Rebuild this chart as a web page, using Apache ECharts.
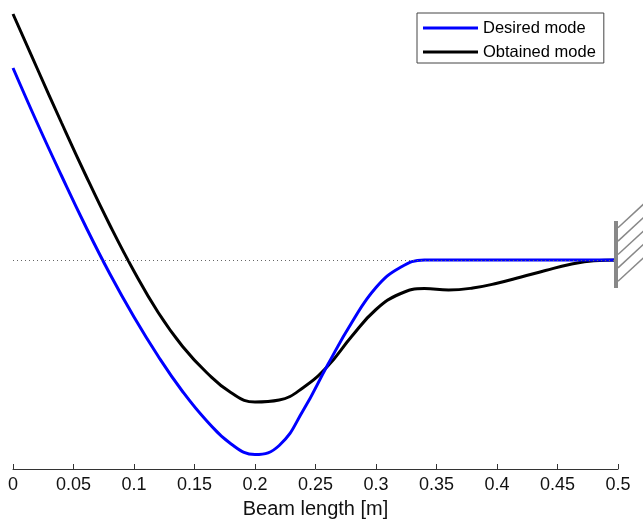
<!DOCTYPE html>
<html>
<head>
<meta charset="utf-8">
<script src="https://cdn.jsdelivr.net/npm/echarts@6/dist/echarts.min.js"></script>
<style>
  html, body { margin: 0; padding: 0; background: #fff; }
  #chart { width: 643px; height: 520px; }
</style>
</head>
<body>
<div id="chart"></div>
<script>
  // beam positions [m]
  var beamX = [0, 0.02, 0.04, 0.06, 0.08, 0.10, 0.12, 0.14, 0.16, 0.18, 0.20, 0.22, 0.24,
               0.26, 0.28, 0.30, 0.32, 0.34, 0.36, 0.38, 0.40, 0.42, 0.44, 0.46, 0.48, 0.50];
  // mode shapes (relative deflection)
  var desiredMode = [0.768, 0.548, 0.338, 0.135, -0.055, -0.228, -0.385, -0.525, -0.643, -0.735, -0.778, -0.742, -0.60,
                     -0.42, -0.25, -0.11, -0.03, 0, 0, 0, 0, 0, 0, 0, 0, 0];
  var obtainedMode = [0.984, 0.766, 0.55, 0.34, 0.14, -0.045, -0.21, -0.345, -0.45, -0.53, -0.568, -0.56, -0.51,
                      -0.425, -0.305, -0.198, -0.135, -0.114, -0.12, -0.112, -0.093, -0.068, -0.042, -0.018, -0.003, 0];
  var xTicks = [0, 0.05, 0.1, 0.15, 0.2, 0.25, 0.3, 0.35, 0.4, 0.45, 0.5];
  var wallY = [0.156, -0.112];   // clamped end, top / bottom

  function pairs(xs, ys) {
    return xs.map(function (x, i) { return [x, ys[i]]; });
  }

  var font = 'Arial, Liberation Sans, sans-serif';
  var chart = echarts.init(document.getElementById('chart'));
  chart.setOption({
    animation: false,
    grid: { left: 13, right: 25, top: 10, bottom: 51, outerBoundsMode: 'none', containLabel: false },
    legend: {
      orient: 'vertical',
      left: 417,
      top: 13,
      padding: [6, 8, 2, 6],
      itemGap: 6,
      itemWidth: 55,
      itemHeight: 3,
      icon: 'rect',
      borderColor: '#444',
      borderWidth: 1,
      backgroundColor: '#fff',
      textStyle: { fontFamily: font, fontSize: 16.5, lineHeight: 18, color: '#000' },
      data: ['Desired mode', 'Obtained mode']
    },
    xAxis: {
      type: 'value',
      min: 0,
      max: 0.5,
      interval: 0.05,
      name: 'Beam length [m]',
      nameLocation: 'middle',
      nameGap: 30,
      nameTextStyle: { fontFamily: font, fontSize: 20, color: '#111' },
      splitLine: { show: false },
      axisLine: { onZero: false, lineStyle: { color: '#333', width: 1 } },
      axisTick: { inside: true, length: 5, lineStyle: { color: '#333' } },
      axisLabel: {
        margin: 7,
        fontFamily: font,
        fontSize: 18,
        color: '#111',
        formatter: function (v) {
          var t = xTicks.find(function (k) { return Math.abs(k - v) < 1e-9; });
          return t === undefined ? '' : String(t);
        }
      }
    },
    yAxis: { type: 'value', show: false, min: -0.836, max: 1 },
    series: [
      {
        name: 'zero',
        type: 'line',
        data: [],
        z: 1,
        silent: true,
        markLine: {
          silent: true,
          symbol: 'none',
          label: { show: false },
          lineStyle: { type: [1, 3], color: '#666', width: 1 },
          data: [{ yAxis: 0 }]
        }
      },
      {
        name: 'Obtained mode',
        type: 'line',
        data: pairs(beamX, obtainedMode),
        smooth: 0.45,
        symbol: 'none',
        z: 3,
        color: '#000',
        lineStyle: { color: '#000', width: 3 }
      },
      {
        name: 'Desired mode',
        type: 'line',
        data: pairs(beamX, desiredMode),
        smooth: 0.45,
        symbol: 'none',
        z: 4,
        color: '#0000ff',
        lineStyle: { color: '#0000ff', width: 3 }
      },
      {
        name: 'wall',
        type: 'custom',
        clip: false,
        silent: true,
        z: 5,
        data: [[0.5, wallY[0], wallY[1]]],
        renderItem: function (params, api) {
          var top = api.coord([api.value(0), api.value(1)]);
          var bot = api.coord([api.value(0), api.value(2)]);
          var x = top[0] - 2;
          var kids = [{
            type: 'rect',
            shape: { x: x - 2, y: top[1], width: 4, height: bot[1] - top[1] },
            style: { fill: '#888' }
          }];
          var n = 5, step = (bot[1] - top[1]) / n;
          for (var i = 0; i < n; i++) {
            var y = top[1] + step * (i + 0.5);
            kids.push({
              type: 'line',
              shape: { x1: x + 2, y1: y, x2: x + 28, y2: y - 24 },
              style: { stroke: '#888', lineWidth: 1.5 }
            });
          }
          return { type: 'group', children: kids };
        }
      }
    ]
  });
</script>
</body>
</html>
